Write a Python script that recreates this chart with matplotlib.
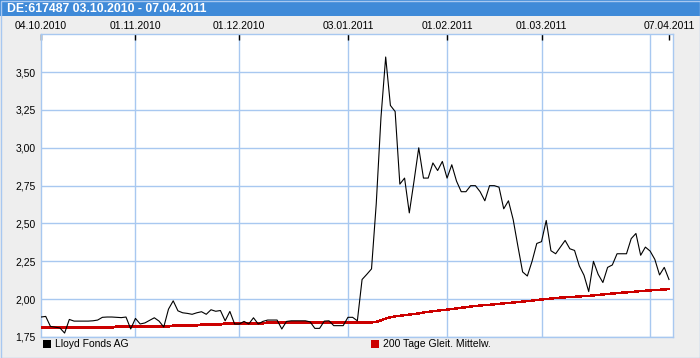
import matplotlib
matplotlib.use("Agg")
import matplotlib.pyplot as plt
from matplotlib.patches import Rectangle
import numpy as np
import pandas as pd

# trading days shown in the chart
dates = pd.bdate_range("2010-10-04", "2011-04-07")

# Lloyd Fonds AG closing prices (EUR), one per trading day
price = [
    1.882, 1.886, 1.820, 1.815, 1.810, 1.776, 1.866, 1.855, 1.855, 1.855,
    1.855, 1.857, 1.862, 1.880, 1.882, 1.882, 1.880, 1.878, 1.882, 1.803,
    1.873, 1.836, 1.843, 1.860, 1.877, 1.855, 1.816, 1.934, 1.989, 1.923,
    1.910, 1.906, 1.900, 1.910, 1.917, 1.900, 1.930, 1.920, 1.925, 1.857,
    1.919, 1.836, 1.836, 1.853, 1.836, 1.877, 1.836, 1.853, 1.862, 1.862,
    1.862, 1.803, 1.853, 1.857, 1.857, 1.857, 1.857, 1.850, 1.807, 1.807,
    1.855, 1.857, 1.825, 1.825, 1.825, 1.880, 1.880, 1.857, 2.130, 2.164,
    2.200, 2.630, 3.200, 3.600, 3.280, 3.240, 2.760, 2.800, 2.570, 2.780,
    3.000, 2.800, 2.800, 2.900, 2.850, 2.910, 2.800, 2.888, 2.780, 2.710,
    2.710, 2.750, 2.750, 2.710, 2.650, 2.750, 2.750, 2.740, 2.597, 2.650,
    2.526, 2.350, 2.180, 2.153, 2.250, 2.368, 2.380, 2.520, 2.320, 2.300,
    2.344, 2.388, 2.333, 2.322, 2.220, 2.158, 2.050, 2.250, 2.164, 2.110,
    2.210, 2.226, 2.300, 2.300, 2.300, 2.400, 2.434, 2.290, 2.344, 2.318,
    2.263, 2.160, 2.210, 2.130,
]

# 200 day moving average
ma200 = [
    1.812, 1.812, 1.812, 1.812, 1.812, 1.812, 1.812, 1.812, 1.812, 1.812,
    1.812, 1.812, 1.812, 1.812, 1.812, 1.812, 1.819, 1.819, 1.819, 1.819,
    1.819, 1.819, 1.819, 1.819, 1.819, 1.819, 1.819, 1.819, 1.826, 1.826,
    1.826, 1.826, 1.826, 1.826, 1.833, 1.833, 1.833, 1.833, 1.833, 1.840,
    1.840, 1.840, 1.840, 1.840, 1.840, 1.840, 1.840, 1.840, 1.846, 1.846,
    1.846, 1.846, 1.846, 1.846, 1.846, 1.846, 1.846, 1.846, 1.846, 1.846,
    1.846, 1.846, 1.846, 1.846, 1.846, 1.846, 1.846, 1.846, 1.846, 1.846,
    1.846, 1.850, 1.860, 1.872, 1.880, 1.886, 1.890, 1.894, 1.898, 1.902,
    1.906, 1.912, 1.916, 1.920, 1.924, 1.928, 1.931, 1.935, 1.939, 1.943,
    1.947, 1.951, 1.955, 1.958, 1.961, 1.963, 1.966, 1.969, 1.972, 1.975,
    1.978, 1.981, 1.984, 1.987, 1.990, 1.994, 1.998, 2.001, 2.004, 2.007,
    2.010, 2.012, 2.014, 2.016, 2.018, 2.020, 2.022, 2.025, 2.028, 2.031,
    2.034, 2.037, 2.040, 2.043, 2.045, 2.047, 2.050, 2.053, 2.056, 2.058,
    2.060, 2.062, 2.064, 2.066,
]

label_dates = ["2010-10-04", "2010-11-01", "2010-12-01", "2011-01-03",
               "2011-02-01", "2011-03-01", "2011-04-07"]
grid_dates = ["2010-11-01", "2010-12-01", "2011-01-03", "2011-02-01",
              "2011-03-01", "2011-04-01"]
y_ticks = [1.75, 2.00, 2.25, 2.50, 2.75, 3.00, 3.25, 3.50]

title = "DE:617487 03.10.2010 - 07.04.2011"
series_names = ["Lloyd Fonds AG", "200 Tage Gleit. Mittelw."]
series_colors = ["#000000", "#CC0000"]

BG = "#EEEEEE"
BAR = "#3F8AD8"
GRID = "#A8C8F0"

W, H = 700, 358
fig = plt.figure(figsize=(W / 100, H / 100), dpi=100, facecolor=BG)
plt.rcParams["font.family"] = ["Liberation Sans", "DejaVu Sans"]

# title bar and outer frame
fig.add_artist(Rectangle((0, 1 - 16 / H), 1, 16 / H, transform=fig.transFigure,
                         facecolor=BAR, edgecolor="none"))
fig.add_artist(Rectangle((0.5 / W, 0.5 / H), 1 - 1 / W, 1 - 1 / H, transform=fig.transFigure,
                         facecolor="none", edgecolor=GRID, lw=1))
fig.text(7 / W, 1 - 8.5 / H, title, color="white", fontsize=8.8, fontweight="bold",
         va="center", ha="left")

left, right, top, bottom = 41, 673, 34, 337
ax = fig.add_axes([left / W, (H - bottom) / H, (right - left) / W, (bottom - top) / H])
ax.set_facecolor("white")

idx = {d: i for i, d in enumerate(dates.strftime("%Y-%m-%d"))}
x = np.arange(len(dates))

# month gridlines, kept under the tick marks
ax.vlines([idx[d] for d in grid_dates], 0, 1, transform=ax.get_xaxis_transform(),
          color=GRID, lw=1, zorder=0.3)
ax.plot(x, ma200, color=series_colors[1], lw=1.0, antialiased=False, zorder=3)
ax.plot(x, price, color=series_colors[0], lw=0.8, antialiased=True, zorder=4)

ax.set_xlim(0, 133.85)
ax.set_ylim(1.75, 3.752)

ax.set_xticks([idx[d] for d in label_dates])
ax.set_xticklabels([pd.Timestamp(d).strftime("%d.%m.%Y") for d in label_dates])
ax.xaxis.tick_top()
ax.tick_params(axis="x", which="major", direction="in", length=4, width=1,
               color="black", labelsize=7.5, pad=2)

ax.set_yticks(y_ticks)
ax.set_yticklabels([f"{v:.2f}".replace(".", ",") for v in y_ticks])
ax.tick_params(axis="y", length=0, labelsize=7.5, pad=4)
ax.grid(axis="y", which="major", color=GRID, lw=1)
ax.set_axisbelow(True)
for s in ax.spines.values():
    s.set_color(GRID)
    s.set_linewidth(1)

# legend row under the plot
legend_x = [43, 371]
for (lx, name, col) in zip(legend_x, series_names, series_colors):
    fig.add_artist(Rectangle((lx / W, (H - 348) / H), 8 / W, 8 / H, transform=fig.transFigure,
                             facecolor=col, edgecolor="none"))
    fig.text((lx + 12) / W, (H - 344) / H, name, fontsize=7.5, va="center", ha="left")

fig.savefig("out.png", dpi=100, facecolor=BG)
